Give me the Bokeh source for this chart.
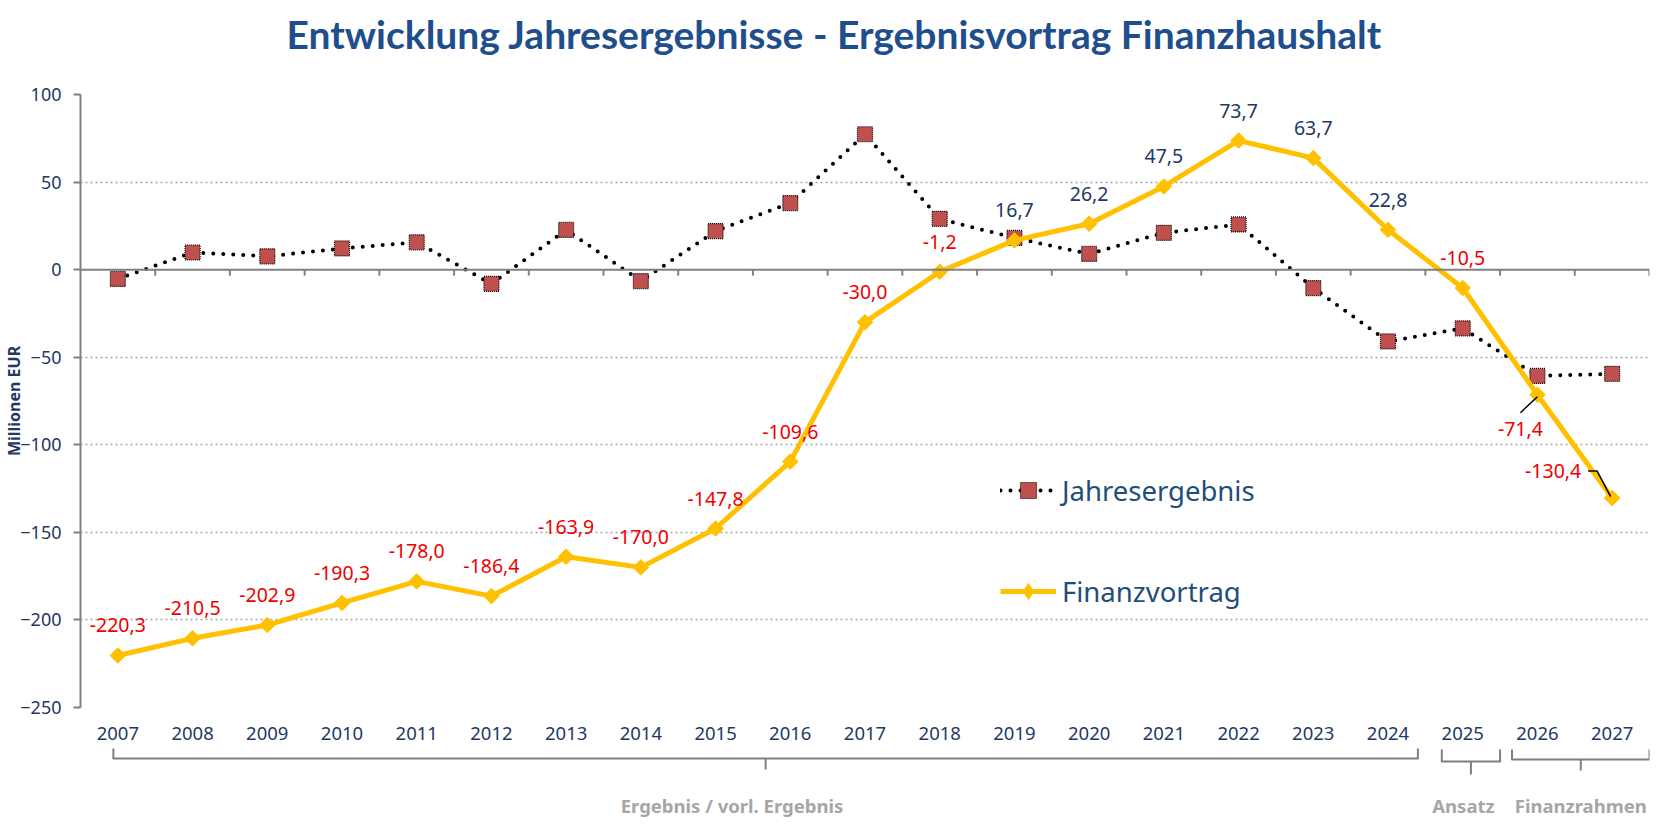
import math
from bokeh.plotting import figure
from bokeh.models import (FactorRange, Range1d, FixedTicker, Span, Legend, LegendItem,
                          ColumnDataSource, LabelSet)
from bokeh.layouts import column
from bokeh.embed import file_html
from bokeh.resources import INLINE
from bokeh.core.properties import value

# ---------------- data ----------------
title_text = "Entwicklung Jahresergebnisse - Ergebnisvortrag Finanzhaushalt"
years = [str(y) for y in range(2007, 2028)]
jahresergebnis = [-5.3, 9.8, 7.6, 12.1, 15.6, -8.1, 22.7, -6.5, 22.0, 38.0, 77.3,
                  29.0, 18.1, 9.0, 21.0, 25.8, -10.5, -41.0, -33.5, -60.7, -59.5]
finanzvortrag = [-220.3, -210.5, -202.9, -190.3, -178.0, -186.4, -163.9, -170.0,
                 -147.8, -109.6, -30.0, -1.2, 16.7, 26.2, 47.5, 73.7, 63.7, 22.8,
                 -10.5, -71.4, -130.4]
y_ticks = [-250, -200, -150, -100, -50, 0, 50, 100]
group_names = ["Ergebnis / vorl. Ergebnis", "Ansatz", "Finanzrahmen"]
group_first = ["2007", "2025", "2026"]
group_last = ["2024", "2025", "2027"]

# ---------------- style / layout ----------------
Y_MIN, Y_MAX = -250, 100
FRAME_W, FRAME_H = 1569, 613
PX_X = len(years) / FRAME_W          # synthetic x units per pixel
PX_Y = (Y_MAX - Y_MIN) / FRAME_H     # data y units per pixel
FONT = "Noto Sans"
TICK_COLOR = "#1f3864"
TITLE_COLOR = "#1f4e8c"
LEG_COLOR = "#1f4e79"
RED = "#ee0000"
GREY_AX = "#808080"
YELLOW = "#ffc000"
TITLE_H = 60
STRIP_H = 74

# ---------------- title strip ----------------
t = figure(x_range=Range1d(0, FRAME_W), y_range=Range1d(TITLE_H, 0),
           frame_width=FRAME_W, frame_height=TITLE_H,
           min_border_left=72, min_border_right=9, min_border_top=0, min_border_bottom=0,
           x_axis_type=None, y_axis_type=None,
           output_backend="svg", toolbar_location=None, outline_line_color=None)
t.grid.visible = False
t.text(x=[754], y=[33], text=[title_text], text_font=value("Lato"),
       text_font_style="bold", text_font_size="39px", text_color=TITLE_COLOR,
       text_align="center", text_baseline="middle")

# ---------------- main chart ----------------
p = figure(x_range=FactorRange(*years), y_range=Range1d(Y_MIN, Y_MAX),
           frame_width=FRAME_W, frame_height=FRAME_H,
           min_border_left=72, min_border_right=9, min_border_top=94 - TITLE_H,
           min_border_bottom=38,
           output_backend="svg", toolbar_location=None, outline_line_color=None,
           background_fill_color="white", border_fill_color="white")

# y axis
p.yaxis.ticker = FixedTicker(ticks=y_ticks)
p.yaxis.axis_line_color = GREY_AX
p.yaxis.axis_line_width = 2
p.yaxis.major_tick_line_color = GREY_AX
p.yaxis.major_tick_line_width = 2
p.yaxis.major_tick_out = 7
p.yaxis.major_tick_in = 0
p.yaxis.minor_tick_line_color = None
p.yaxis.major_label_standoff = 12
p.yaxis.major_label_text_font = FONT
p.yaxis.major_label_text_font_size = "18px"
p.yaxis.major_label_text_color = TICK_COLOR
p.yaxis.axis_label = "Millionen EUR"
p.yaxis.axis_label_text_font = FONT
p.yaxis.axis_label_text_font_style = "bold"
p.yaxis.axis_label_text_font_size = "16px"
p.yaxis.axis_label_text_color = TICK_COLOR
p.yaxis.axis_label_standoff = -8

# x axis (labels only, at the bottom)
p.xaxis.axis_line_color = None
p.xaxis.major_tick_line_color = None
p.xaxis.minor_tick_line_color = None
p.xaxis.major_label_standoff = 13
p.xaxis.major_label_text_font = FONT
p.xaxis.major_label_text_font_size = "18.5px"
p.xaxis.major_label_text_color = TICK_COLOR

# grid
p.xgrid.visible = False
p.ygrid.ticker = FixedTicker(ticks=[v for v in y_ticks if v != 0])
p.ygrid.grid_line_color = "#a6a6a6"
p.ygrid.grid_line_width = 1.5
p.ygrid.grid_line_dash = "2 3"

# zero axis line with category-boundary ticks
p.add_layout(Span(location=0, dimension="width", line_color=GREY_AX, line_width=2))
bounds = list(range(1, len(years) + 1))
p.segment(x0=bounds, y0=[0] * len(bounds), x1=bounds, y1=[-6 * PX_Y] * len(bounds),
          line_color=GREY_AX, line_width=2)

# series
r1 = p.line(years, jahresergebnis, line_color="black", line_width=4,
            line_dash="0 10", line_cap="round")
r2 = p.scatter(years, jahresergebnis, marker="square", size=15,
               fill_color="#c0504d", line_color="black", line_width=1.2, line_dash="1 1")
r3 = p.line(years, finanzvortrag, line_color=YELLOW, line_width=5)
# diamond (used by the legend), covered by the rotated-square markers drawn on top
r_dia = p.scatter(years, finanzvortrag, marker="diamond", size=13,
                  fill_color=YELLOW, line_color=YELLOW)
r4 = p.scatter(years, finanzvortrag, marker="square", angle=math.pi / 4, size=11,
               fill_color=YELLOW, line_color=YELLOW)

# data labels of Finanzvortrag
x_off = [0] * len(years)
y_off = [30] * len(years)
i26, i27 = years.index("2026"), years.index("2027")
x_off[i26], y_off[i26] = -17, -34
x_off[i27], y_off[i27] = -59, 27
lab_src = ColumnDataSource(dict(
    x=years, y=finanzvortrag,
    text=[f"{v:.1f}".replace(".", ",") for v in finanzvortrag],
    color=[RED if v < 0 else TICK_COLOR for v in finanzvortrag],
    xo=x_off, yo=y_off))
p.add_layout(LabelSet(x="x", y="y", text="text", source=lab_src, x_offset="xo", y_offset="yo",
                      text_color="color", text_font=value(FONT), text_font_size="19.5px",
                      text_align="center", text_baseline="middle"))

# leader lines for the two shifted labels
c26, c27 = i26 + 0.5, i27 + 0.5
v26, v27 = finanzvortrag[i26], finanzvortrag[i27]
p.multi_line(xs=[[c26 - 17 * PX_X, c26],
                 [c27 - 24 * PX_X, c27 - 15 * PX_X, c27 - 1.5 * PX_X]],
             ys=[[v26 - 18 * PX_Y, v26 - 2 * PX_Y],
                 [v27 + 27 * PX_Y, v27 + 27 * PX_Y, v27 + 1.5 * PX_Y]],
             line_color="black", line_width=1.5)

# legend
legend = Legend(items=[LegendItem(label="Jahresergebnis", renderers=[r1, r2]),
                       LegendItem(label="Finanzvortrag", renderers=[r3, r_dia])],
                location=(920, 96), orientation="vertical",
                glyph_width=56, glyph_height=40, label_height=40, spacing=61,
                padding=0, margin=0, label_standoff=6,
                label_text_font=FONT, label_text_font_size="27.5px",
                label_text_color=LEG_COLOR,
                border_line_color=None, background_fill_alpha=0)
p.add_layout(legend)

# ---------------- bracket strip under the axis ----------------
q = figure(x_range=p.x_range, y_range=Range1d(STRIP_H, 0),
           frame_width=FRAME_W, frame_height=STRIP_H,
           min_border_left=72, min_border_right=9, min_border_top=0, min_border_bottom=0,
           x_axis_type=None, y_axis_type=None,
           output_backend="svg", toolbar_location=None, outline_line_color=None)
q.grid.visible = False

inset_l = [0.44, 0.22, 0.16]
inset_r = [0.1, 0.0, 0.0]
hook_top = [3, 4, 4]
bar_y = [13, 16, 14]
tip_y = [24, 29, 25]
xs, ys, lab_x = [], [], []
for k in range(len(group_names)):
    a = years.index(group_first[k]) + inset_l[k]
    b = years.index(group_last[k]) + 1 - inset_r[k]
    m = (a + b) / 2
    xs += [[a, a, b, b], [m, m]]
    ys += [[hook_top[k], bar_y[k], bar_y[k], hook_top[k]], [bar_y[k], tip_y[k]]]
    lab_x.append(m)
lab_x[0] -= 0.45
lab_x[1] -= 0.1
q.multi_line(xs=xs, ys=ys, line_color="#7f7f7f", line_width=2, line_join="round")
q.text(x=lab_x, y=[60] * len(group_names), text=group_names,
       text_font=value(FONT), text_font_style="bold", text_font_size="18.5px",
       text_color="#a6a6a6", text_align="center", text_baseline="middle")

layout = column(t, p, q, spacing=0)
open("out.html", "w").write(file_html(layout, INLINE))
